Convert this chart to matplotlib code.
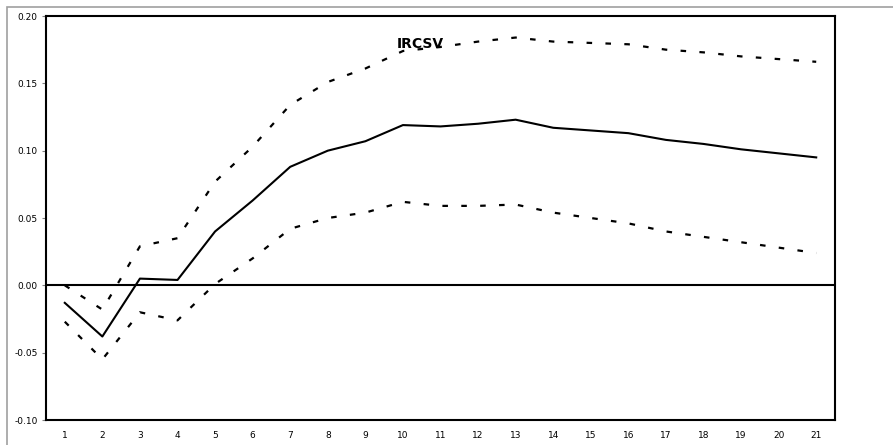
import matplotlib.pyplot as plt
from matplotlib.patches import Rectangle
import numpy as np

periods = [str(i) for i in range(1, 22)]
irf = [-0.013, -0.038, 0.005, 0.004, 0.040, 0.063, 0.088, 0.100, 0.107, 0.119, 0.118,
       0.120, 0.123, 0.117, 0.115, 0.113, 0.108, 0.105, 0.101, 0.098, 0.095]
upper = [0.000, -0.018, 0.029, 0.035, 0.077, 0.103, 0.134, 0.151, 0.161, 0.174, 0.177,
         0.181, 0.184, 0.181, 0.180, 0.179, 0.175, 0.173, 0.170, 0.168, 0.166]
lower = [-0.027, -0.055, -0.020, -0.026, 0.001, 0.020, 0.042, 0.050, 0.054, 0.062, 0.059,
         0.059, 0.060, 0.054, 0.050, 0.046, 0.040, 0.036, 0.032, 0.028, 0.024]
yticks = [-0.10, -0.05, 0.00, 0.05, 0.10, 0.15, 0.20]

fig = plt.figure(figsize=(8.93, 4.45), dpi=100)
fig.patches.append(Rectangle((7 / 893, -0.1), 1.2, 1.1 - 7 / 445, transform=fig.transFigure,
                             fill=False, edgecolor='#a0a0a0', linewidth=1.2))
ax = fig.add_axes([46 / 893, 1 - 420 / 445, 789 / 893, 404 / 445])

x = np.arange(len(periods))
dots = (0, (2.5, 6))
ax.plot(x, irf, color='black', linewidth=1.5)
ax.plot(x, upper, color='black', linewidth=1.6, linestyle=dots)
ax.plot(x, lower, color='black', linewidth=1.6, linestyle=dots)
ax.axhline(0, color='black', linewidth=1.5)

ax.set_xlim(-0.5, len(periods) - 0.5)
ax.set_ylim(-0.10, 0.20)
ax.set_xticks(x)
ax.set_xticklabels(periods)
ax.set_yticks(yticks)
ax.set_yticklabels([f'{v:.2f}' for v in yticks])
ax.tick_params(axis='x', length=0, labelsize=6.5, pad=8)
ax.tick_params(axis='y', length=3, color='#808080', labelsize=6.5, pad=3)
for s in ax.spines.values():
    s.set_linewidth(1.5)

ax.text(0.474, 0.93, 'IRCSV', transform=ax.transAxes, ha='center', va='center',
        fontsize=10, fontweight='bold')

fig.savefig('out.png', dpi=100)
